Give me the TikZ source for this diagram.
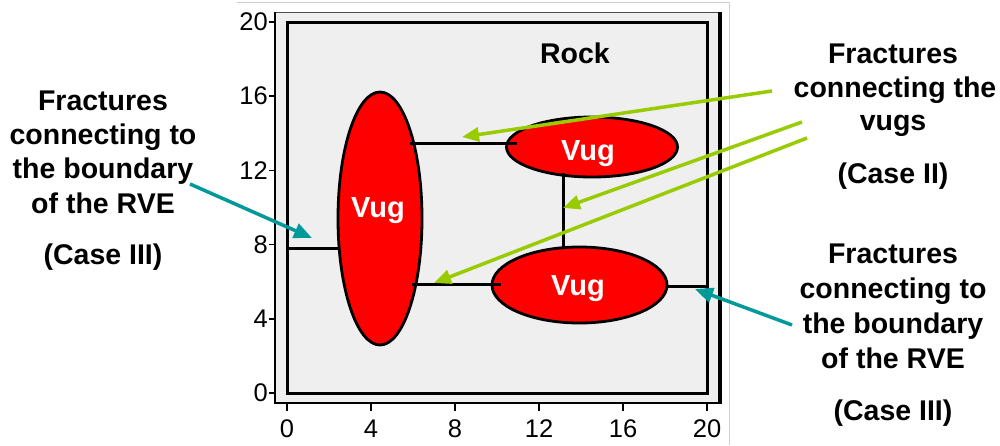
\documentclass[tikz,border=0pt]{standalone}
\usepackage{fontspec}
\setmainfont{Liberation Sans}
\usetikzlibrary{shapes.geometric,arrows.meta}
\definecolor{rockgray}{HTML}{EFEFEF}
\definecolor{vugred}{HTML}{FF0000}
\definecolor{arrgreen}{HTML}{99CC00}
\definecolor{arrteal}{HTML}{009999}
\definecolor{framegray}{HTML}{D0D0D0}
\tikzset{
  big/.style={font=\fontsize{28.5}{32}\selectfont\bfseries, anchor=base, inner sep=0pt},
  ticklbl/.style={font=\fontsize{25.5}{28}\selectfont, inner sep=0pt},
  vugshape/.style={ellipse, draw=black, fill=vugred, line width=2.8pt, inner sep=0pt},
  vuglbl/.style={font=\fontsize{29}{32}\selectfont\bfseries, text=white, anchor=base, inner sep=0pt},
  frac/.style={draw=black, line width=3pt},
  greenarrow/.style={draw=arrgreen, line width=3.5pt, -{Triangle[length=17pt,width=14pt]}},
  tealarrow/.style={draw=arrteal, line width=3.5pt, -{Triangle[length=18pt,width=15pt]}},
}
\begin{document}
\begin{tikzpicture}[x=1pt,y=-1pt]
\useasboundingbox (0,0) rectangle (1000,445);
% chart border
\draw[framegray, line width=1pt] (237,2.5) -- (729,2.5) -- (729,445);
% plot area
\fill[rockgray] (275,12) rectangle (720,403);
\draw[black!70, line width=1pt] (275,12) -- (720,12);
\draw[black, line width=4pt] (720,12) -- (720,404);
\draw[black, line width=2.5pt] (275,12) -- (275,403) -- (720,403);
% inner RVE boundary
\draw[black, line width=3pt] (287,22) rectangle (707,393);
% ticks and labels
\foreach \v/\yy in {0/393,4/318.8,8/244.6,12/170.4,16/96.2,20/22}{
  \draw[black, line width=1.5pt] (269,\yy) -- (275,\yy);
  \node[ticklbl, anchor=east] (yl\v) at (268,\yy) {\v};
}
\foreach \v/\xx in {0/287,4/371,8/455,12/539,16/623,20/707}{
  \draw[black, line width=1.5pt] (\xx,403) -- (\xx,411);
  \node[ticklbl, anchor=base] (xl\v) at (\xx,437) {\v};
}
% Rock label
\node[big] (rock) at (575,63) {Rock};
% vugs
\node[vugshape, minimum width=84pt, minimum height=253pt] (v1) at (380,218.5) {};
\node[vugshape, minimum width=171pt, minimum height=60pt] (v2) at (592,147) {};
\node[vugshape, minimum width=175pt, minimum height=76pt] (v3) at (579.5,285) {};
\node[vuglbl] (v1t) at (378,217) {Vug};
\node[vuglbl] (v2t) at (588,160) {Vug};
\node[vuglbl] (v3t) at (578,295) {Vug};
% fractures
\coordinate (f1a) at (410,143); \coordinate (f1b) at (517,143);
\coordinate (f2a) at (563,173); \coordinate (f2b) at (563,248);
\coordinate (f3a) at (412,284); \coordinate (f3b) at (501,284);
\coordinate (f4a) at (287,248); \coordinate (f4b) at (340,248);
\coordinate (f5a) at (667,286); \coordinate (f5b) at (707,286);
\draw[frac] (f1a) -- (f1b);
\draw[frac] (f2a) -- (f2b);
\draw[frac] (f3a) -- (f3b);
\draw[frac] (f4a) -- (f4b);
\draw[frac] (f5a) -- (f5b);
% left text
\node[big] (lt1) at (103,110) {Fractures};
\node[big] (lt2) at (103,144) {connecting to};
\node[big] (lt3) at (103,178) {the boundary};
\node[big] (lt4) at (103,213) {of the RVE};
\node[big] (lt5) at (103,264) {(Case III)};
% right top text
\node[big] (rt1) at (893,63) {Fractures};
\node[big] (rt2) at (895,97) {connecting the};
\node[big] (rt3) at (893,130) {vugs};
\node[big] (rt4) at (893,183) {(Case II)};
% right bottom text
\node[big] (rb1) at (893,263) {Fractures};
\node[big] (rb2) at (893,298) {connecting to};
\node[big] (rb3) at (893,333) {the boundary};
\node[big] (rb4) at (893,368) {of the RVE};
\node[big] (rb5) at (893,420) {(Case III)};
% arrows
\coordinate (g1s) at (772,91);  \coordinate (g1e) at (462,137);
\coordinate (g2s) at (802,122); \coordinate (g2e) at (563,208);
\coordinate (g3s) at (807,138); \coordinate (g3e) at (434,283);
\coordinate (t1s) at (190,184); \coordinate (t1e) at (312,238);
\coordinate (t2s) at (792,325); \coordinate (t2e) at (695,289);
\draw[greenarrow] (g1s) -- (g1e);
\draw[greenarrow] (g2s) -- (g2e);
\draw[greenarrow] (g3s) -- (g3e);
\draw[tealarrow] (t1s) -- (t1e);
\draw[tealarrow] (t2s) -- (t2e);
\end{tikzpicture}
\end{document}
